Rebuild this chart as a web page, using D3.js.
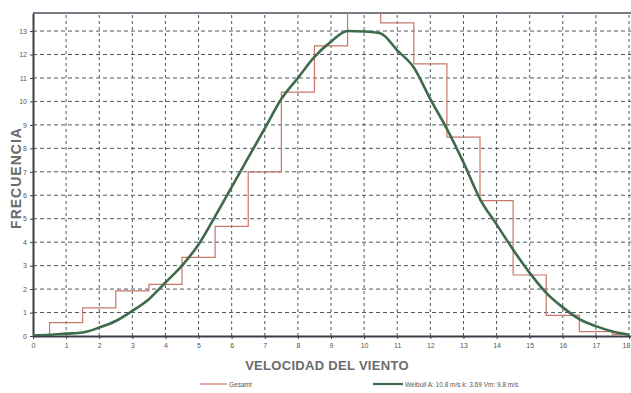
<!DOCTYPE html>
<html>
<head>
<meta charset="utf-8">
<script src="https://cdn.jsdelivr.net/npm/d3@7"></script>
<style>
  body { margin: 0; background: #fff; }
  svg { display: block; font-family: "Liberation Sans", Arial, sans-serif; }
</style>
</head>
<body>
<svg id="chart"></svg>
<script>
// histogram bins (centred on each integer speed)
const binCenters = [0, 1, 2, 3, 4, 5, 6, 7, 8, 9, 10, 11, 12, 13, 14, 15, 16, 17, 18];
const binValues  = [0.05, 0.57, 1.2, 1.92, 2.2, 3.35, 4.67, 7.0, 10.4, 12.37, 14.3, 13.35, 11.6, 8.48, 5.77, 2.6, 0.88, 0.19, 0.07];

// weibull curve
const curveX = [0, 0.5, 1, 1.5, 2, 2.5, 3, 3.5, 4, 4.5, 5, 5.5, 6, 6.5, 7, 7.5, 8, 8.5, 9, 9.5, 10, 10.5, 11, 11.5, 12, 12.5, 13, 13.5, 14, 14.5, 15, 15.5, 16, 16.5, 17, 17.5, 18];
const curveY = [0.02, 0.05, 0.1, 0.15, 0.36, 0.64, 1.07, 1.57, 2.28, 3.0, 3.9, 5.1, 6.35, 7.6, 8.85, 10.1, 11.0, 11.9, 12.55, 13.0, 12.98, 12.9, 12.18, 11.45, 10.1, 8.83, 7.4, 5.84, 4.76, 3.68, 2.69, 1.84, 1.22, 0.72, 0.42, 0.19, 0.05];

const xTicks = d3.range(0, 19);
const yTicks = d3.range(0, 14);

const legendLabels = ["Gesamt", "Weibull A: 10.8 m/s  k: 3.69  Vm: 9.8 m/s"];

const width = 631, height = 393;
const margin = {top: 13, right: 0, bottom: 57, left: 33};

const svg = d3.select("#chart")
    .attr("width", width)
    .attr("height", height);

const xscale = d3.scaleLinear()
    .domain([0, 18.06])
    .range([margin.left, width - margin.right]);

const yscale = d3.scaleLinear()
    .domain([0, 13.77])
    .range([height - margin.bottom, margin.top]);

svg.append("clipPath").attr("id", "plot-clip")
    .append("rect")
    .attr("x", margin.left)
    .attr("y", margin.top)
    .attr("width", width - margin.left - margin.right)
    .attr("height", height - margin.top - margin.bottom);

// grid
const grid = svg.append("g");
grid.selectAll(".vgrid")
    .data(xTicks.filter(d => d > 0))
    .join("line")
    .attr("x1", d => xscale(d)).attr("x2", d => xscale(d))
    .attr("y1", yscale.range()[0]).attr("y2", yscale.range()[1])
    .attr("stroke", "#50555f")
    .attr("stroke-width", 1)
    .attr("stroke-dasharray", "3,3");
grid.selectAll(".hgrid")
    .data(yTicks.filter(d => d > 0))
    .join("line")
    .attr("x1", xscale.range()[0]).attr("x2", xscale.range()[1])
    .attr("y1", d => yscale(d)).attr("y2", d => yscale(d))
    .attr("stroke", "#50555f")
    .attr("stroke-width", 1)
    .attr("stroke-dasharray", "4,3");

// axes
const xaxis = d3.axisBottom(xscale).tickValues(xTicks).tickSize(3).tickSizeOuter(0);
const yaxis = d3.axisLeft(yscale).tickValues(yTicks).tickSize(3).tickSizeOuter(0);

const xg = svg.append("g")
    .attr("transform", `translate(0, ${yscale(0)})`)
    .call(xaxis);
const yg = svg.append("g")
    .attr("transform", `translate(${margin.left}, 0)`)
    .call(yaxis);

[xg, yg].forEach(g => {
    g.select(".domain").attr("stroke", "#3a3f4a").attr("stroke-width", 2);
    g.selectAll(".tick line").attr("stroke", "#3a3f4a");
    g.selectAll(".tick text")
        .attr("fill", "#555")
        .style("font-size", "7px");
});
xg.selectAll(".tick text").attr("dy", "0.9em");
// last label sits against the right edge
xg.selectAll(".tick text").filter(d => d === 18).attr("dx", "-3px");

// top border
svg.append("line")
    .attr("x1", margin.left).attr("x2", width)
    .attr("y1", margin.top).attr("y2", margin.top)
    .attr("stroke", "#4a4f5a")
    .attr("stroke-width", 1.5);

// histogram steps
const stepData = binCenters.map((d, i) => ({x: d, y: binValues[i]}));
const stepLine = d3.line()
    .x(d => xscale(d.x))
    .y(d => yscale(d.y))
    .curve(d3.curveStep);

svg.append("path")
    .datum(stepData)
    .attr("clip-path", "url(#plot-clip)")
    .attr("d", stepLine)
    .attr("fill", "none")
    .attr("stroke", "#c8776a")
    .attr("stroke-width", 1.2);

// weibull curve
const curveData = curveX.map((d, i) => ({x: d, y: curveY[i]}));
const weibullLine = d3.line()
    .x(d => xscale(d.x))
    .y(d => yscale(d.y))
    .curve(d3.curveMonotoneX);

svg.append("path")
    .datum(curveData)
    .attr("clip-path", "url(#plot-clip)")
    .attr("d", weibullLine)
    .attr("fill", "none")
    .attr("stroke", "#3d6b4c")
    .attr("stroke-width", 2.6);

// axis titles
svg.append("text")
    .attr("x", 327)
    .attr("y", 370)
    .attr("text-anchor", "middle")
    .attr("fill", "#6b6b6b")
    .style("font-size", "13px")
    .style("font-weight", "bold")
    .style("letter-spacing", "0.3px")
    .text("VELOCIDAD DEL VIENTO");

svg.append("text")
    .attr("transform", "translate(21, 178) rotate(-90)")
    .attr("text-anchor", "middle")
    .attr("fill", "#6b6b6b")
    .style("font-size", "14px")
    .style("font-weight", "bold")
    .style("letter-spacing", "1px")
    .text("FRECUENCIA");

// legend
const legend = svg.append("g");
const legendItems = [
    {x: 200, w: 27, color: "#c8776a", sw: 1.2},
    {x: 373, w: 30, color: "#3d6b4c", sw: 2.2}
];
legendItems.forEach((d, i) => {
    legend.append("line")
        .attr("x1", d.x).attr("x2", d.x + d.w)
        .attr("y1", 384).attr("y2", 384)
        .attr("stroke", d.color)
        .attr("stroke-width", d.sw);
    legend.append("text")
        .attr("x", d.x + d.w + 2)
        .attr("y", 386.5)
        .attr("fill", "#555")
        .style("font-size", "6.5px")
        .text(legendLabels[i]);
});
</script>
</body>
</html>
